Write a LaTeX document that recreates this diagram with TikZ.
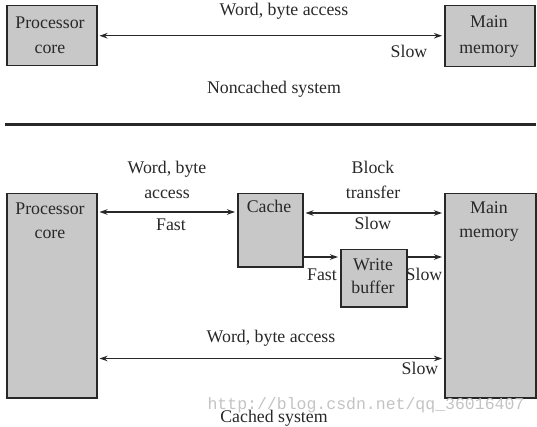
\documentclass[tikz,border=0pt]{standalone}
\usepackage{fontspec}
\setmainfont{Liberation Serif}
\newfontfamily\wmfont{Liberation Mono}
\usetikzlibrary{arrows.meta}
\definecolor{boxfill}{RGB}{200,200,200}
\definecolor{ink}{RGB}{40,40,40}
\definecolor{wm}{RGB}{195,195,195}
\tikzset{
  blk/.style={draw=ink, line width=1.5pt, fill=boxfill, anchor=north west, inner sep=0pt},
  lbl/.style={text=ink, inner sep=0pt, text height=13.5pt, text depth=2.5pt, font=\fontsize{17.8}{21}\selectfont},
  dar/.style={draw=ink, line width=1.3pt, {Stealth[length=8pt,width=5.5pt]}-{Stealth[length=8pt,width=5.5pt]}, shorten <=2pt, shorten >=2pt},
  sar/.style={draw=ink, line width=1.3pt, -{Stealth[length=8pt,width=5.5pt]}, shorten >=2pt},
}
\begin{document}
\begin{tikzpicture}[x=1pt,y=-1pt]
\useasboundingbox (0,0) rectangle (537,427);
% ---------- noncached ----------
\node[blk, minimum width=90pt, minimum height=60pt] (pc1) at (6,5) {};
\node[blk, minimum width=90pt, minimum height=61pt] (mm1) at (444,5) {};
\node[lbl] (pc1a) at (50,23) {Processor};
\node[lbl] (pc1b) at (50,48) {core};
\node[lbl] (mm1a) at (489,22) {Main};
\node[lbl] (mm1b) at (489,48) {memory};
\draw[dar] (pc1.east) -- (pc1.east -| mm1.west);
\node[lbl] (t1) at (284,10) {Word, byte access};
\node[lbl] (t2) at (409,52) {Slow};
\node[lbl] (t3) at (274,88) {Noncached system};
% rule
\draw[ink, line width=3pt] (5,125) coordinate (r1) -- (536,125) coordinate (r2);
% ---------- cached ----------
\node[blk, minimum width=90pt, minimum height=204pt] (pc2) at (6,193) {};
\node[blk, minimum width=91pt, minimum height=204pt] (mm2) at (444,193) {};
\node[blk, minimum width=65pt, minimum height=73pt] (cache) at (237,193) {};
\node[blk, minimum width=66pt, minimum height=57pt] (wb) at (340,249) {};
\node[lbl] (pc2a) at (50,209) {Processor};
\node[lbl] (pc2b) at (50,233) {core};
\node[lbl] (mm2a) at (489,208) {Main};
\node[lbl] (mm2b) at (489,232) {memory};
\node[lbl] (ca) at (269,207) {Cache};
\node[lbl] (wba) at (373,265) {Write};
\node[lbl] (wbb) at (373,288) {buffer};
% arrows
\coordinate (p1) at ([yshift=-19pt]pc2.north east);
\draw[dar] (p1) -- (p1 -| cache.west);
\coordinate (p2) at ([yshift=-20pt]cache.north east);
\draw[dar] (p2) -- (p2 -| mm2.west);
\coordinate (p3) at ([yshift=-8pt]wb.north west);
\draw[sar] (p3 -| cache.east) -- (p3);
\coordinate (p4) at ([yshift=-8pt]wb.north east);
\draw[sar] (p4) -- (p4 -| mm2.west);
\coordinate (p5) at ([yshift=40pt]pc2.south east);
\draw[dar] (p5) -- (p5 -| mm2.west);
% labels
\node[lbl] (l1) at (167,168) {Word, byte};
\node[lbl] (l2) at (167,193) {access};
\node[lbl] (l3) at (171,225) {Fast};
\node[lbl] (l4) at (373,168) {Block};
\node[lbl] (l5) at (373,193) {transfer};
\node[lbl] (l6) at (373,224) {Slow};
\node[lbl] (l7) at (322,275) {Fast};
\node[lbl] (l8) at (424,275) {Slow};
\node[lbl] (l9) at (271,337) {Word, byte access};
\node[lbl] (l10) at (420,369) {Slow};
\node[text=wm, inner sep=0pt, font=\wmfont\fontsize{16.5}{18}\selectfont] (wm) at (366,405) {http://blog.csdn.net/qq\_36016407};
\node[lbl] (l11) at (274,417) {Cached system};
\end{tikzpicture}
\end{document}
